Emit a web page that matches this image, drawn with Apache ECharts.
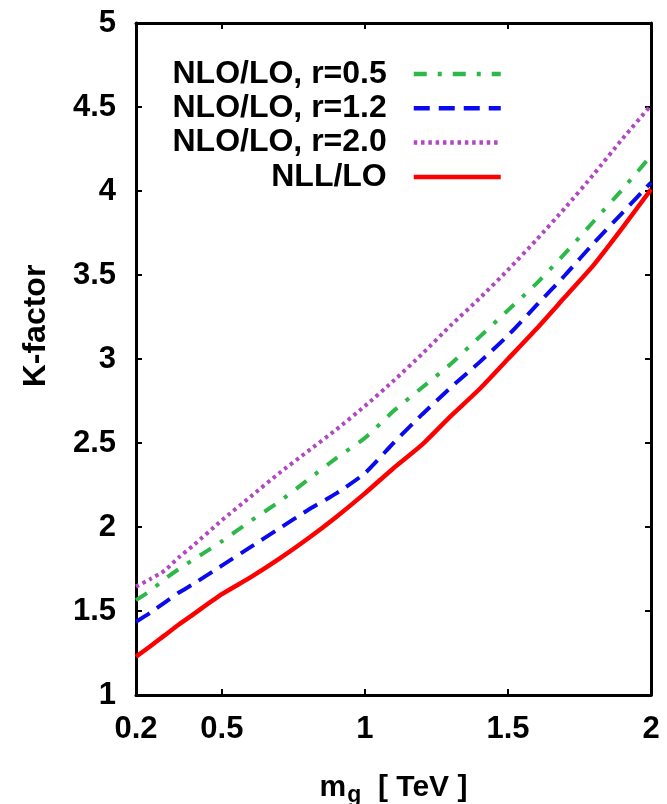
<!DOCTYPE html>
<html>
<head>
<meta charset="utf-8">
<script src="https://cdn.jsdelivr.net/npm/echarts@6/dist/echarts.min.js"></script>
<style>html,body{margin:0;padding:0;background:#fff}#c{width:667px;height:804px}</style>
</head>
<body>
<div id="c"></div>
<script>
const masses  = [0.2,0.25,0.3,0.35,0.4,0.5,0.6,0.7,0.8,0.9,1.0,1.1,1.2,1.3,1.4,1.5,1.6,1.7,1.8,1.9,2.0];
const kNloR05 = [1.565,1.62,1.69,1.75,1.805,1.915,2.035,2.15,2.28,2.41,2.53,2.69,2.83,2.97,3.13,3.29,3.45,3.63,3.82,4.01,4.21];
const kNloR12 = [1.436,1.49,1.55,1.61,1.66,1.77,1.88,1.99,2.10,2.20,2.32,2.50,2.67,2.83,2.98,3.14,3.32,3.50,3.69,3.87,4.05];
const kNloR20 = [1.645,1.69,1.74,1.82,1.89,2.04,2.18,2.32,2.45,2.58,2.72,2.87,3.03,3.20,3.36,3.53,3.71,3.90,4.10,4.31,4.51];
const kNll    = [1.228,1.29,1.355,1.42,1.48,1.60,1.70,1.81,1.93,2.06,2.20,2.35,2.49,2.66,2.82,3.00,3.18,3.37,3.56,3.78,4.01];
const seriesNames = ['NLO/LO, r=0.5','NLO/LO, r=1.2','NLO/LO, r=2.0','NLL/LO'];
const xTickLabels = [0.2,0.5,1,1.5,2];
const xMinorTicks = [0.5,1,1.5];

const FONT = 'Liberation Sans, Arial, sans-serif';
const pairs = ys => masses.map((m,i)=>[m, ys[i]]);
const styles = [
  {color:'#2fb84a', type:[13,11,4,11], width:4},
  {color:'#0a0af0', type:[16,9], width:4},
  {color:'#b048c2', type:[3.5,3.8], width:4},
  {color:'#ff0000', type:'solid', width:4.5}
];
const dataSets = [kNloR05,kNloR12,kNloR20,kNll];

const axisLineStyle = {lineStyle:{color:'#000', width:3}};
const tickStyle = {inside:true, length:6, lineStyle:{color:'#000', width:2}};

const chart = echarts.init(document.getElementById('c'), null, {renderer:'canvas'});
chart.setOption({
  animation:false,
  backgroundColor:'#fff',
  grid:{left:136, right:16, top:23, bottom:109, containLabel:false, outerBoundsMode:'none'},
  legend:{
    orient:'vertical', align:'right', right:164, top:58, padding:0,
    itemWidth:87, itemHeight:14, itemGap:2.3,
    data:seriesNames,
    itemStyle:{color:'rgba(0,0,0,0)', borderWidth:0, opacity:0},
    lineStyle:{width:4.5},
    formatter: n => '{t|' + n + '}{s|}',
    textStyle:{
      rich:{
        t:{fontFamily:FONT, fontWeight:'bold', fontSize:32, color:'#000', lineHeight:33.3},
        s:{width:22}
      }
    }
  },
  xAxis:[{
    type:'value', min:0.2, max:2, position:'bottom',
    axisLine:axisLineStyle,
    axisTick:Object.assign({customValues:xMinorTicks}, tickStyle),
    splitLine:{show:false},
    axisLabel:{customValues:xTickLabels, margin:19, color:'#000', fontFamily:FONT, fontWeight:'bold', fontSize:31,
      formatter:v=>String(+v.toFixed(2))},
    name:'{m|m}{g|g}{b|  [ TeV ]}', nameLocation:'middle', nameGap:78,
    nameTextStyle:{rich:{
      m:{fontFamily:FONT, fontWeight:'bold', fontSize:30, color:'#000', lineHeight:30},
      g:{fontFamily:FONT, fontWeight:'bold', fontSize:23, color:'#000', lineHeight:22, padding:[16,0,0,1]},
      b:{fontFamily:FONT, fontWeight:'bold', fontSize:30, color:'#000', lineHeight:30}
    }}
  },{
    type:'value', min:0.2, max:2, position:'top',
    axisLine:axisLineStyle,
    axisTick:Object.assign({customValues:xMinorTicks}, tickStyle),
    axisLabel:{show:false}, splitLine:{show:false}
  }],
  yAxis:[{
    type:'value', min:1, max:5, interval:0.5, position:'left',
    axisLine:axisLineStyle, axisTick:tickStyle, splitLine:{show:false},
    axisLabel:{margin:20, color:'#000', fontFamily:FONT, fontWeight:'bold', fontSize:31},
    name:'K-factor', nameLocation:'middle', nameGap:84, nameRotate:90,
    nameTextStyle:{fontFamily:FONT, fontWeight:'bold', fontSize:32, color:'#000', padding:[0,0,0,66]}
  },{
    type:'value', min:1, max:5, interval:0.5, position:'right',
    axisLine:axisLineStyle, axisTick:tickStyle, splitLine:{show:false},
    axisLabel:{show:false}
  }],
  series: dataSets.map((d,i)=>({
    name:seriesNames[i], type:'line', data:pairs(d),
    xAxisIndex:0, yAxisIndex:0,
    symbol:'none', smooth:0.2, z:3 + (i===3?1:0),
    lineStyle:{color:styles[i].color, type:styles[i].type, width:styles[i].width, cap:'butt'},
    itemStyle:{color:styles[i].color}
  }))
});
</script>
</body>
</html>
